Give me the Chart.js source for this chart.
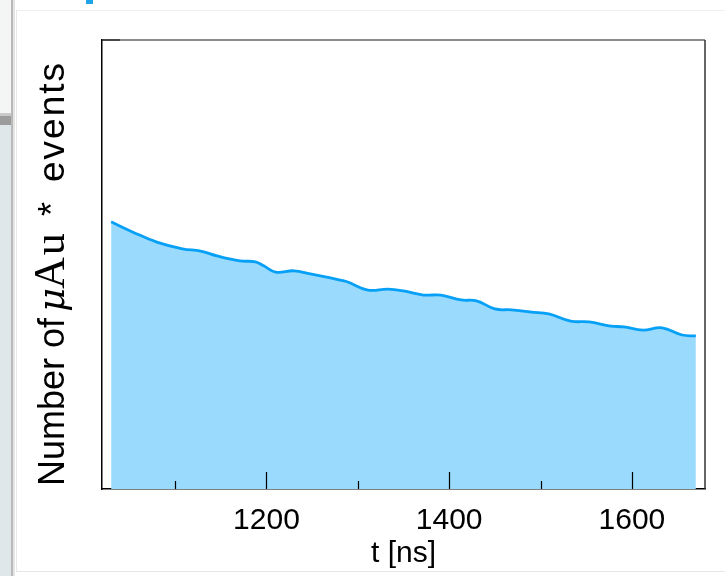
<!DOCTYPE html>
<html>
<head>
<meta charset="utf-8">
<script src="https://cdn.jsdelivr.net/npm/chart.js@4.4.1/dist/chart.umd.min.js"></script>
<style>
  html, body { margin: 0; padding: 0; background: #fff; }
  #wrap { position: relative; width: 725px; height: 576px; overflow: hidden; }
  .deco { position: absolute; }
  #chart { position: absolute; left: 0; top: 0; }
</style>
</head>
<body>
<div id="wrap">
  <!-- bits of the window around the figure -->
  <div class="deco" style="left:0;top:0;width:11px;height:113px;background:#f4f5f5"></div>
  <div class="deco" style="left:0;top:113px;width:11px;height:3px;background:#c9c9c9"></div>
  <div class="deco" style="left:0;top:116px;width:11px;height:9px;background:#9c9c9c"></div>
  <div class="deco" style="left:0;top:125px;width:11px;height:451px;background:#dfe7eb"></div>
  <div class="deco" style="left:11px;top:0;width:2px;height:576px;background:#b9b9b9"></div>
  <div class="deco" style="left:13px;top:0;width:2px;height:576px;background:#e4e4e4"></div>
  <div class="deco" style="left:16px;top:10px;width:709px;height:1px;background:#efefef"></div>
  <div class="deco" style="left:16px;top:10px;width:1px;height:562px;background:#e8e8e8"></div>
  <div class="deco" style="left:16px;top:571px;width:709px;height:1px;background:#e6e6e6"></div>
  <div class="deco" style="left:86px;top:0;width:7px;height:4px;background:#1ea3e8"></div>
  <canvas id="chart" width="725" height="576"></canvas>
</div>
<script>
// t [ns] and number of events
const timeNs = [1030, 1054, 1080, 1108, 1128, 1146, 1171, 1188, 1197, 1210, 1230, 1248,
                1270, 1281, 1289, 1311, 1333, 1350, 1372, 1391, 1413, 1430, 1450, 1468,
                1490, 1509, 1533, 1553, 1577, 1591, 1612, 1633, 1655, 1670];
const counts = [59.5, 57.2, 55.0, 53.5, 53.0, 51.9, 50.8, 50.6, 49.7, 48.3, 48.6, 47.9,
                47.0, 46.5, 46.1, 44.3, 44.5, 44.1, 43.2, 43.2, 42.1, 41.9, 40.1, 39.9,
                39.4, 39.0, 37.4, 37.2, 36.3, 36.1, 35.4, 35.9, 34.3, 34.1];
const xTicks = [1100, 1200, 1300, 1400, 1500, 1600];
const xLabels = [1200, 1400, 1600];

const sans = '"Liberation Sans", Arial, Helvetica, sans-serif';

// frame, inner ticks and the mixed-font y label
const framePlugin = {
  id: 'frame',
  afterDraw(chart) {
    const { ctx, chartArea: a, scales } = chart;
    ctx.save();
    ctx.lineWidth = 1.5;
    ctx.strokeStyle = '#666';
    ctx.beginPath();
    ctx.moveTo(a.left, a.top);
    ctx.lineTo(a.right, a.top);
    ctx.stroke();
    ctx.strokeStyle = '#333';
    ctx.beginPath();
    ctx.moveTo(a.right, a.top);
    ctx.lineTo(a.right, a.bottom);
    ctx.stroke();

    ctx.strokeStyle = '#000';
    ctx.lineWidth = 1.2;
    ctx.beginPath();
    ctx.moveTo(a.left, a.top);
    ctx.lineTo(a.left + 18, a.top);
    xTicks.forEach(v => {
      const px = Math.round(scales.x.getPixelForValue(v)) + 0.5;
      const len = xLabels.includes(v) ? 17 : 8;
      ctx.moveTo(px, a.bottom);
      ctx.lineTo(px, a.bottom - len);
    });
    ctx.stroke();

    // y title: "Number of μAu * events", pieces set along the rotated baseline
    const parts = [
      ['Number of', 0, '36px ' + sans, '0px'],
      ['\u03bc', 174, 'italic 37px "DejaVu Serif", "Liberation Serif", serif', '0px'],
      ['Au', 197, '44px "Liberation Serif", "Times New Roman", serif', '2px'],
      ['*', 270, '36px ' + sans, '0px'],
      ['events', 304, '37px ' + sans, '2px']
    ];
    ctx.translate(64, 486);
    ctx.rotate(-Math.PI / 2);
    ctx.fillStyle = '#000';
    ctx.textBaseline = 'alphabetic';
    parts.forEach(([txt, off, font, sp]) => {
      ctx.font = font;
      ctx.letterSpacing = sp;
      ctx.fillText(txt, off, 0);
    });
    ctx.restore();
  }
};

new Chart(document.getElementById('chart').getContext('2d'), {
  type: 'line',
  data: {
    datasets: [{
      data: timeNs.map((t, i) => ({ x: t, y: counts[i] })),
      borderColor: '#07a0f7',
      backgroundColor: '#9adafc',
      borderWidth: 2.8,
      fill: 'origin',
      pointRadius: 0,
      tension: 0.4
    }]
  },
  options: {
    responsive: false,
    animation: false,
    layout: { padding: { top: 40, right: 20, left: 0, bottom: 0 } },
    plugins: { legend: { display: false }, tooltip: { enabled: false } },
    scales: {
      x: {
        type: 'linear',
        min: 1020,
        max: 1680,
        afterBuildTicks: s => { s.ticks = xTicks.map(v => ({ value: v })); },
        afterFit: s => { s.height = 87; },
        grid: { display: false, drawTicks: false },
        border: { display: true, color: '#000', width: 1.5 },
        ticks: {
          autoSkip: false,
          maxRotation: 0,
          padding: 14,
          color: '#000',
          font: { family: sans, size: 30 },
          callback: v => xLabels.includes(v) ? String(v) : ''
        },
        title: {
          display: true,
          text: 't [ns]',
          color: '#000',
          font: { family: sans, size: 30 },
          padding: { top: 0, bottom: 4 }
        }
      },
      y: {
        min: 0,
        max: 100,
        afterFit: s => { s.width = 102; },
        grid: { display: false, drawTicks: false },
        border: { display: true, color: '#000', width: 1.5 },
        ticks: { display: false }
      }
    }
  },
  plugins: [framePlugin]
});
</script>
</body>
</html>
